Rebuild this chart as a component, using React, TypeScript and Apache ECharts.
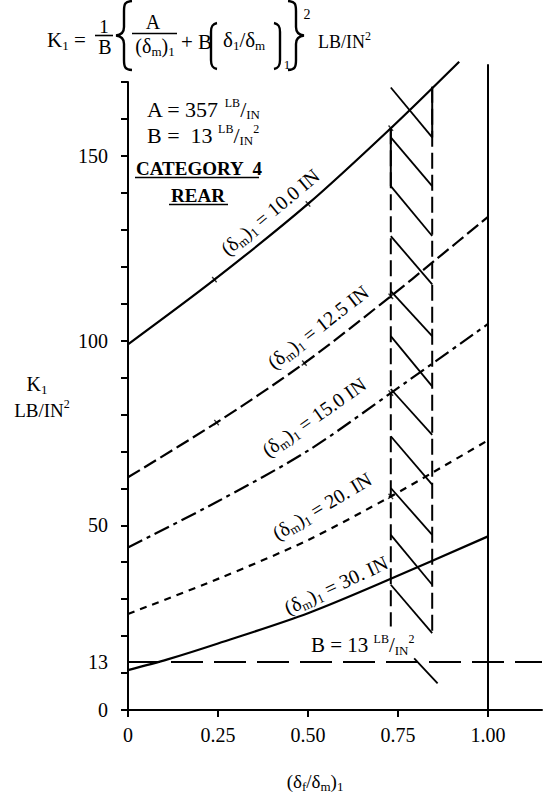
import { useEffect, useRef } from 'react';
import * as echarts from 'echarts';

const FONT = '"Liberation Serif", "Times New Roman", serif';

// K1 (LB/IN²) against (δf/δm)1 for each (δm)1 curve
const ratio10 = [0, 0.24, 0.5, 0.73, 0.92];
const k10 = [99, 116.5, 137, 157.5, 175.5];
const ratio125 = [0, 0.246, 0.49, 0.73, 0.85, 1.0];
const k125 = [63, 77.8, 93.9, 112, 121.5, 133.5];
const ratio15 = [0, 0.25, 0.5, 0.73, 1.0];
const k15 = [44, 56.5, 70.2, 85.8, 104.5];
const ratio20 = [0, 0.25, 0.5, 0.73, 0.85, 1.0];
const k20 = [26, 35.5, 46, 57.8, 64.5, 73];
const ratio30 = [0, 0.11, 0.25, 0.5, 0.73, 1.0];
const k30 = [10.8, 13.7, 18.0, 26.2, 35.5, 47.0];

const curveLabels = ['10.0', '12.5', '15.0', '20.', '30.'];
// sample points carrying a small check mark on each curve
const checkPointIdx = [[1, 2, 3], [1, 2, 3], [3], [3], []];

// B = 13 LB/IN² floor
const bFloor = 13;

// axes
const xTicks = [0, 0.25, 0.5, 0.75, 1.0];
const yLabelValues = [0, 13, 50, 100, 150];
const xMax = 1.15;
const yMax = 170;

// ratio = 1.00 limit
const limitRatio = 1.0;
const limitTop = 174.8;

// hatched band of (δf/δm)1 values
const bandLeft = 0.73;
const bandRight = 0.845;
const bandLeftSpan = [157.5, 22.6];
const bandRightSpan = [168.7, 20.8];
const bandLeftSolid = [157.5, 141.8];
const bandRightSolid = [168.7, 155.0];
const hatchUpper = [168.5, 155.0, 141.8, 128.3, 113.4, 101.2, 86.9, 74.1, 60.1, 47.4, 33.9];
const hatchLower = [155.0, 141.8, 128.3, 115.2, 101.2, 87.6, 74.5, 61.0, 47.4, 33.9, 20.8];
const hatchTail = [0.795, 14.0, 0.86, 7.2];

const BRACE_L = 'M18 1 C11 1.5 10 4 10 11 L10 27 C10 32 7 35 2 35.5 C7 36 10 39 10 44 L10 60 C10 67 11 69.5 18 70';
const BRACE_R = 'M2 1 C9 1.5 10 4 10 11 L10 27 C10 32 13 35 18 35.5 C13 36 10 39 10 44 L10 60 C10 67 9 69.5 2 70';
const BRACKET_L = 'M9 1 C4 2 3 5 3 10 L3 38 C3 43 4 46 9 47';
const BRACKET_R = 'M1 1 C6 2 7 5 7 10 L7 38 C7 43 6 46 1 47';

const rich = {
  s: { fontSize: 13, lineHeight: 14, verticalAlign: 'bottom', fontFamily: FONT, fill: '#000' },
  p: { fontSize: 12, lineHeight: 13, verticalAlign: 'top', fontFamily: FONT, fill: '#000' },
  u: { fontSize: 12, lineHeight: 12, verticalAlign: 'top', fontFamily: FONT, fill: '#000' },
  d: { fontSize: 13, lineHeight: 20, verticalAlign: 'bottom', fontFamily: FONT, fill: '#000' },
};

function txt(
  x: number,
  y: number,
  text: string,
  o: { size?: number; align?: string; bold?: boolean; rot?: number } = {}
) {
  const align = o.align ?? 'left';
  return {
    type: 'text',
    x,
    y,
    rotation: ((o.rot ?? 0) * Math.PI) / 180,
    silent: true,
    style: {
      text,
      fill: '#000',
      fontFamily: FONT,
      fontSize: o.size ?? 20,
      fontWeight: o.bold ? 'bold' : 'normal',
      lineHeight: 24,
      align,
      textAlign: align,
      verticalAlign: 'middle',
      textVerticalAlign: 'middle',
      rich,
    },
  };
}

function seg(x1: number, y1: number, x2: number, y2: number, w = 1.6) {
  return {
    type: 'line',
    silent: true,
    shape: { x1, y1, x2, y2 },
    style: { stroke: '#000', lineWidth: w },
  };
}

function shape(type: string, x: number, y: number) {
  return {
    type,
    x,
    y,
    silent: true,
    style: { stroke: '#000', fill: 'none', lineWidth: 2.4 },
  };
}

const pairs = (xs: number[], ys: number[]) => xs.map((x, i) => [x, ys[i]]);

export default function App() {
  const ref = useRef<HTMLDivElement>(null);

  useEffect(() => {
    const el = ref.current;
    if (!el) return;
    echarts.graphic.registerShape('braceL', echarts.graphic.extendPath(BRACE_L, {}));
    echarts.graphic.registerShape('braceR', echarts.graphic.extendPath(BRACE_R, {}));
    echarts.graphic.registerShape('bracketL', echarts.graphic.extendPath(BRACKET_L, {}));
    echarts.graphic.registerShape('bracketR', echarts.graphic.extendPath(BRACKET_R, {}));

    const chart = echarts.init(el, undefined, { renderer: 'svg' });

    const curves = [
      { data: pairs(ratio10, k10), dash: 'solid' as any },
      { data: pairs(ratio125, k125), dash: [14, 5] },
      { data: pairs(ratio15, k15), dash: [16, 5, 4, 5] },
      { data: pairs(ratio20, k20), dash: [7, 6] },
      { data: pairs(ratio30, k30), dash: 'solid' as any },
    ];

    const checkPoints: number[][] = [];
    curves.forEach((c, ci) => {
      checkPointIdx[ci].forEach((i) => checkPoints.push(c.data[i]));
    });

    const hatchData = hatchUpper.map((u, i) => [bandLeft, u, bandRight, hatchLower[i]]);
    hatchData.push(hatchTail);

    const plainLine = (data: number[][], width: number, type: any = 'solid') => ({
      type: 'line',
      data,
      silent: true,
      clip: false,
      symbol: 'none',
      showSymbol: false,
      z: 3,
      lineStyle: { color: '#000', width, type },
    });

    const option: any = {
      animation: false,
      backgroundColor: '#fff',
      grid: {
        left: 128,
        top: 82,
        width: 414,
        height: 628,
        containLabel: false,
        outerBoundsMode: 'none',
      },
      xAxis: {
        type: 'value',
        min: 0,
        max: xMax,
        splitLine: { show: false },
        axisLine: { show: true, onZero: false, lineStyle: { color: '#000', width: 2 } },
        axisTick: {
          show: true,
          customValues: xTicks,
          length: 7,
          lineStyle: { color: '#000', width: 2 },
        },
        axisLabel: {
          customValues: xTicks,
          formatter: (v: number) => (v === 0 ? '0' : v.toFixed(2)),
          fontFamily: FONT,
          fontSize: 20,
          color: '#000',
          margin: 15,
        },
      },
      yAxis: {
        type: 'value',
        min: 0,
        max: yMax,
        interval: 10,
        splitLine: { show: false },
        axisLine: { show: true, onZero: false, lineStyle: { color: '#000', width: 2 } },
        axisTick: { show: true, length: 7, lineStyle: { color: '#000', width: 2 } },
        axisLabel: {
          customValues: yLabelValues,
          formatter: (v: number) => String(v),
          fontFamily: FONT,
          fontSize: 20,
          color: '#000',
          margin: 20,
        },
      },
      series: [
        ...curves.map((c) => ({
          type: 'line',
          data: c.data,
          smooth: 0.3,
          silent: true,
          clip: false,
          symbol: 'none',
          showSymbol: false,
          z: 4,
          lineStyle: { color: '#000', width: 2.2, type: c.dash },
        })),
        {
          type: 'scatter',
          data: checkPoints,
          silent: true,
          clip: false,
          symbol: 'path://M-0.8,-4H0.8V4H-0.8Z M-4,-0.8H4V0.8H-4Z',
          symbolSize: 7,
          symbolRotate: 40,
          itemStyle: { color: '#000' },
          z: 5,
        },
        plainLine([[0, bFloor], [xMax, bFloor]], 2, [32, 11]),
        plainLine([[limitRatio, 0], [limitRatio, limitTop]], 2),
        plainLine([[bandLeft, bandLeftSpan[0]], [bandLeft, bandLeftSpan[1]]], 2, [16, 6]),
        plainLine([[bandRight, bandRightSpan[0]], [bandRight, bandRightSpan[1]]], 2, [16, 6]),
        plainLine([[bandLeft, bandLeftSolid[0]], [bandLeft, bandLeftSolid[1]]], 2),
        plainLine([[bandRight, bandRightSolid[0]], [bandRight, bandRightSolid[1]]], 2),
        {
          type: 'custom',
          coordinateSystem: 'cartesian2d',
          data: hatchData,
          silent: true,
          clip: false,
          z: 3,
          encode: { x: [0, 2], y: [1, 3] },
          renderItem: (_p: any, api: any) => {
            const a = api.coord([api.value(0), api.value(1)]);
            const b = api.coord([api.value(2), api.value(3)]);
            return {
              type: 'line',
              shape: { x1: a[0], y1: a[1], x2: b[0], y2: b[1] },
              style: { stroke: '#000', lineWidth: 1.8 },
            };
          },
        },
      ],
      graphic: [
        // K1 formula
        txt(47, 40, 'K{s|1} =', { size: 21 }),
        txt(104, 26, '1', { size: 19, align: 'center' }),
        seg(95, 35.5, 113, 35.5, 1.6),
        txt(105, 47, 'B', { size: 20, align: 'center' }),
        shape('braceL', 114, 0),
        txt(153, 22, 'A', { size: 20, align: 'center' }),
        seg(132, 33.5, 177, 33.5, 1.6),
        txt(155, 46, '(δ{s|m}){s|1}', { size: 20, align: 'center' }),
        txt(181, 42, '+ B', { size: 21 }),
        shape('bracketL', 208, 22),
        txt(223, 40, 'δ{s|1}/δ{s|m}', { size: 21 }),
        shape('bracketR', 273, 22),
        txt(287, 64, '1', { size: 13, align: 'center' }),
        shape('braceR', 286, 0),
        txt(307, 14, '2', { size: 14, align: 'center' }),
        txt(318, 42, 'LB/IN{p|2}', { size: 18 }),

        // constants block
        txt(147, 109, 'A = 357 {u|LB}/{d|IN}', { size: 22 }),
        txt(147, 135, 'B =  13 {u|LB}/{d|IN}{u|2}', { size: 22 }),
        txt(136, 168, 'CATEGORY  4', { size: 19, bold: true }),
        seg(135, 177.5, 259, 177.5, 1.6),
        txt(198, 195, 'REAR', { size: 19, bold: true, align: 'center' }),
        seg(169, 204.5, 228, 204.5, 1.6),

        // axis names
        txt(37, 384, 'K{s|1}', { size: 20, align: 'center' }),
        txt(42, 410, 'LB/IN{p|2}', { size: 19, align: 'center' }),
        txt(315, 781, '(δ{s|f}/δ{s|m}){s|1}', { size: 19, align: 'center' }),

        // curve labels
        txt(270, 212, `(δ{s|m}){s|1} = ${curveLabels[0]} IN`, { size: 20, align: 'center', rot: 40 }),
        txt(318, 327, `(δ{s|m}){s|1} = ${curveLabels[1]} IN`, { size: 20, align: 'center', rot: 38 }),
        txt(314, 417, `(δ{s|m}){s|1} = ${curveLabels[2]} IN`, { size: 20, align: 'center', rot: 35 }),
        txt(322, 506, `(δ{s|m}){s|1} = ${curveLabels[3]} IN`, { size: 20, align: 'center', rot: 31 }),
        txt(336, 585, `(δ{s|m}){s|1} = ${curveLabels[4]} IN`, { size: 20, align: 'center', rot: 25 }),

        // floor label
        txt(311, 645, `B = ${bFloor} {u|LB}/{d|IN}{u|2}`, { size: 21 }),
      ],
    };

    chart.setOption(option);
    return () => chart.dispose();
  }, []);

  return (
    <div
      ref={ref}
      style={{ position: 'absolute', left: 0, top: 0, width: 543, height: 794, background: '#fff' }}
    />
  );
}
